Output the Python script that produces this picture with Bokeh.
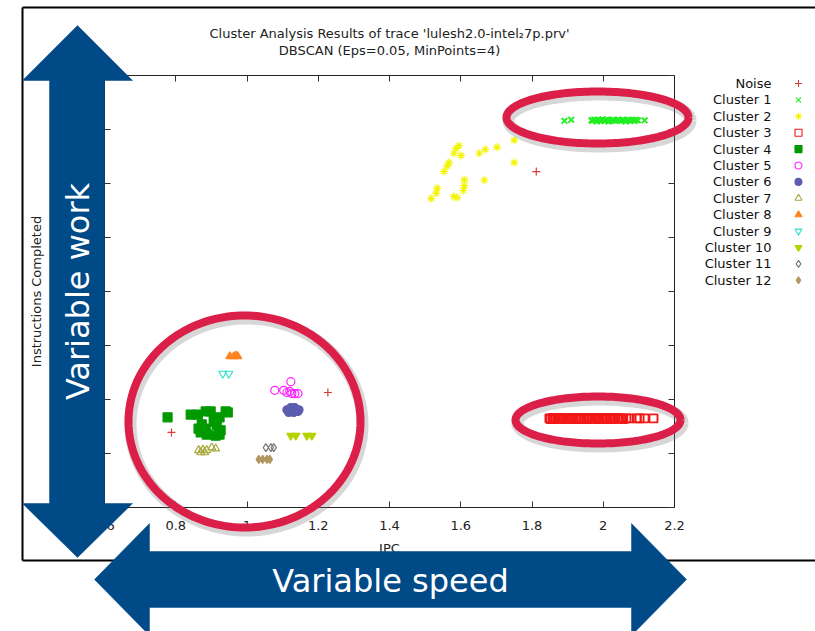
import numpy as np
from bokeh.plotting import figure
from bokeh.models import Range1d, FixedTicker, LinearAxis
from bokeh.embed import file_html
from bokeh.resources import INLINE
from bokeh.core.properties import value

FONT = "DejaVu Sans"
W, H = 815, 631

# ---------------- data ----------------
cluster_names = ["Noise", "Cluster 1", "Cluster 2", "Cluster 3", "Cluster 4", "Cluster 5",
                 "Cluster 6", "Cluster 7", "Cluster 8", "Cluster 9", "Cluster 10",
                 "Cluster 11", "Cluster 12"]
marker_types = ["cross", "x", "asterisk", "square", "square", "circle", "circle",
                "triangle", "triangle", "inverted_triangle", "inverted_triangle",
                "diamond", "diamond"]
marker_colors = ["#dc3c3c", "#22ee22", "#f4f400", "#f41818", "#009a00", "#ff22ff",
                 "#5c5cb0", "#a8a83c", "#ff8420", "#30e2c8", "#b6d200", "#777777", "#b29660"]
marker_filled = [False, False, False, False, True, False, True, False, True, False,
                 True, False, True]

noise_ipc = [0.788, 1.227, 1.812]
noise_instr = [13.9, 21.3, 62.2]

c1_ipc = [1.891, 1.910, 1.967, 1.970, 1.975, 1.979, 1.982, 1.986, 1.991, 1.994, 1.998,
          2.003, 2.006, 2.010, 2.015, 2.018, 2.022, 2.027, 2.030, 2.034, 2.039, 2.042,
          2.046, 2.051, 2.054, 2.058, 2.063, 2.066, 2.071, 2.075, 2.079, 2.084, 2.088,
          2.092, 2.097, 2.116]
c1_instr = [71.6, 71.8, 71.7, 71.6, 71.8, 71.7, 71.5, 71.8, 71.6, 71.7, 71.9,
            71.6, 71.7, 71.8, 71.5, 71.7, 71.6, 71.8, 71.7, 71.6, 71.7, 71.8,
            71.7, 71.6, 71.8, 71.7, 71.5, 71.7, 71.8, 71.6, 71.7, 71.7, 71.6,
            71.8, 71.7, 71.7]

c2_ipc = [1.595, 1.587, 1.581, 1.601, 1.567, 1.562, 1.553, 1.652, 1.669, 1.702, 1.750,
          1.750, 1.610, 1.610, 1.607, 1.666, 1.534, 1.531, 1.517, 1.581, 1.590]
c2_instr = [67.0, 66.5, 65.6, 65.2, 63.9, 63.2, 62.2, 65.6, 66.3, 66.7, 68.0,
            63.9, 60.7, 59.6, 58.7, 60.6, 59.1, 58.2, 57.2, 57.6, 57.4]

c3_ipc = [1.849, 1.852, 1.858, 1.861, 1.865, 1.871, 1.874, 1.878, 1.884, 1.887, 1.893,
          1.895, 1.901, 1.904, 1.910, 1.912, 1.917, 1.923, 1.925, 1.930, 1.936, 1.938,
          1.945, 1.947, 1.953, 1.956, 1.960, 1.966, 1.969, 1.975, 1.977, 1.982, 1.988,
          1.990, 1.997, 1.999, 2.005, 2.008, 2.012, 2.018, 2.021, 2.027, 2.029, 2.034,
          2.040, 2.042, 2.047, 2.053, 2.056, 2.065, 2.074, 2.094, 2.102, 2.116, 2.141]
c3_instr = [16.5, 16.4, 16.6, 16.5, 16.5, 16.4, 16.6, 16.5, 16.5, 16.6, 16.4,
            16.5, 16.5, 16.6, 16.5, 16.4, 16.5, 16.6, 16.5, 16.5, 16.4, 16.5,
            16.6, 16.5, 16.5, 16.4, 16.5, 16.6, 16.5, 16.5, 16.5, 16.4, 16.5,
            16.6, 16.5, 16.5, 16.4, 16.5, 16.6, 16.5, 16.5, 16.5, 16.4, 16.5,
            16.6, 16.5, 16.5, 16.5, 16.4, 16.5, 16.5, 16.5, 16.5, 16.5, 16.5]

c4_ipc = [0.777, 0.842, 0.862, 0.884, 0.898, 0.907, 0.923, 0.940, 0.946, 0.915, 0.926,
          0.873, 0.884, 0.870, 0.887, 0.912, 0.923, 0.907, 0.864]
c4_instr = [16.7, 17.2, 17.2, 17.8, 17.8, 16.5, 16.7, 17.8, 17.6, 15.2, 14.3,
            15.4, 14.6, 13.9, 13.5, 13.3, 13.5, 15.9, 14.6]

c5_ipc = [1.123, 1.078, 1.103, 1.112, 1.126, 1.134, 1.143, 1.120]
c5_instr = [23.3, 21.7, 21.7, 21.3, 21.1, 21.1, 21.1, 21.5]

c6_ipc = [1.112, 1.123, 1.134, 1.146, 1.117, 1.131, 1.143]
c6_instr = [18.1, 18.5, 18.5, 18.1, 17.6, 17.6, 17.8]

c7_ipc = [0.864, 0.876, 0.887, 0.901, 0.912, 0.870, 0.881]
c7_instr = [10.6, 10.7, 10.6, 11.1, 10.9, 10.2, 10.2]

c8_ipc = [0.952, 0.963, 0.974, 0.969]
c8_instr = [28.0, 28.0, 28.0, 28.1]

c9_ipc = [0.932, 0.949]
c9_instr = [24.8, 24.8]

c10_ipc = [1.123, 1.137, 1.168, 1.182]
c10_instr = [13.3, 13.3, 13.3, 13.3]

c11_ipc = [1.053, 1.067, 1.075]
c11_instr = [11.1, 11.1, 11.1]

c12_ipc = [1.033, 1.044, 1.056, 1.064]
c12_instr = [8.9, 8.9, 8.9, 8.9]

series_ipc = [noise_ipc, c1_ipc, c2_ipc, c3_ipc, c4_ipc, c5_ipc, c6_ipc, c7_ipc, c8_ipc,
              c9_ipc, c10_ipc, c11_ipc, c12_ipc]
series_instr = [noise_instr, c1_instr, c2_instr, c3_instr, c4_instr, c5_instr, c6_instr,
                c7_instr, c8_instr, c9_instr, c10_instr, c11_instr, c12_instr]

x_ticks = [0.6, 0.8, 1.0, 1.2, 1.4, 1.6, 1.8, 2.0, 2.2]
x_tick_labels = ["0.6", "0.8", "1", "1.2", "1.4", "1.6", "1.8", "2", "2.2"]
y_ticks = [0, 10, 20, 30, 40, 50, 60, 70, 80]
y_tick_labels = ["0", "1e+07", "2e+07", "3e+07", "4e+07", "5e+07", "6e+07", "7e+07", "8e+07"]

title_lines = ["Cluster Analysis Results of trace 'lulesh2.0-intel\u20827p.prv'",
               "DBSCAN (Eps=0.05, MinPoints=4)"]
arrow_texts = ["Variable work", "Variable speed"]

BLUE = "#004a88"
RED = "#dc1f48"

# chart area inside the canvas (pixels): x 104..674, y 75..507
CH_L, CH_R, CH_T, CH_B = 104, 674, 75, 507
XMIN, XMAX, YMIN, YMAX = 0.6, 2.2, 0, 80
sx = (CH_R - CH_L) / (XMAX - XMIN)
sy = (CH_B - CH_T) / (YMAX - YMIN)
x_range = Range1d(XMIN - CH_L / sx, XMAX + (W - CH_R) / sx)
y_range = Range1d(YMIN - (H - CH_B) / sy, YMAX + CH_T / sy)

p = figure(width=W, height=H, x_range=x_range, y_range=y_range, title=None,
           output_backend="svg", toolbar_location=None,
           min_border=0, min_border_left=0, min_border_right=0,
           min_border_top=0, min_border_bottom=0,
           background_fill_color="white", border_fill_color="white",
           outline_line_color=None)
p.grid.visible = False
p.extra_x_ranges = {"px": Range1d(0, W)}
p.extra_y_ranges = {"px": Range1d(H, 0)}


def style_axis(ax):
    ax.major_tick_in = 6
    ax.major_tick_out = 0
    ax.minor_tick_in = 0
    ax.minor_tick_out = 0
    ax.axis_line_color = "#222222"
    ax.axis_line_width = 1
    ax.major_tick_line_color = "#333333"
    ax.major_label_text_font = FONT
    ax.major_label_text_font_size = "13px"
    ax.major_label_text_color = "#222222"
    ax.axis_label_text_font = FONT
    ax.axis_label_text_font_size = "13px"
    ax.axis_label_text_font_style = "normal"
    ax.axis_label_text_color = "#222222"


xb = p.xaxis[0]
style_axis(xb)
xb.fixed_location = YMIN
xb.bounds = (XMIN, XMAX)
xb.ticker = FixedTicker(ticks=x_ticks)
xb.major_label_overrides = dict(zip(x_ticks, x_tick_labels))
xb.axis_label = "IPC"
xb.major_label_standoff = 13
xb.axis_label_standoff = 8

yl = p.yaxis[0]
style_axis(yl)
yl.fixed_location = XMIN
yl.bounds = (YMIN, YMAX)
yl.ticker = FixedTicker(ticks=y_ticks)
yl.major_label_overrides = dict(zip(y_ticks, y_tick_labels))
yl.axis_label = "Instructions Completed"
yl.major_label_standoff = 5
yl.axis_label_standoff = 9

xt = LinearAxis(fixed_location=YMAX, bounds=(XMIN, XMAX), ticker=FixedTicker(ticks=x_ticks),
                major_label_overrides={t: "" for t in x_ticks})
style_axis(xt)
p.add_layout(xt, "above")
yr = LinearAxis(fixed_location=XMAX, bounds=(YMIN, YMAX), ticker=FixedTicker(ticks=y_ticks),
                major_label_overrides={t: "" for t in y_ticks})
style_axis(yr)
p.add_layout(yr, "right")

# data (dense clusters 1 and 3 drawn with a heavier stroke, as in the original)
for name, xs, ys, m, c, f in zip(cluster_names, series_ipc, series_instr, marker_types,
                                 marker_colors, marker_filled):
    lw = 1.9 if name in ("Cluster 1", "Cluster 3") else 1.2
    sz = 9 if name == "Cluster 4" else 8
    p.scatter(xs, ys, marker=m, size=sz, line_color=c, line_width=lw,
              fill_color=c if f else None)

PX = dict(x_range_name="px", y_range_name="px")

# titles
p.text(x=[389, 389], y=[33, 50], text=title_lines, text_align="center",
       text_baseline="middle", text_font=value(FONT), text_font_size="13px",
       text_color="#222222", **PX)

# legend (gnuplot style: label right-aligned, symbol on the right)
n = len(cluster_names)
row_y = [83 + 16.4 * i for i in range(n)]
p.text(x=[771] * n, y=row_y, text=cluster_names, text_align="right",
       text_baseline="middle", text_font=value(FONT), text_font_size="13px",
       text_color="#111111", **PX)
for yy, m, c, f in zip(row_y, marker_types, marker_colors, marker_filled):
    p.scatter([798], [yy], marker=m, size=7, line_color=c, line_width=1.1,
              fill_color=c if f else None, **PX)

# outer border of the embedded picture
p.multi_line(xs=[[22, 22], [22, W + 5], [22, W + 5]], ys=[[7, 560], [7, 7], [560, 560]],
             line_color="black", line_width=2, **PX)


def ellipse_pts(cx, cyd, a, b, npts=180):
    t = np.linspace(0, 2 * np.pi, npts + 1)
    return list(cx + a * np.cos(t)), list(cyd + b * np.sin(t))


ellipses = [(597, 117, 91, 26), (597.5, 419.5, 82.5, 23.5), (244, 421, 116, 106)]
for (ex, ey, ea, eb) in ellipses:
    xs, ys = ellipse_pts(ex + 2, ey + 3, ea, eb)
    p.line(xs, ys, line_color="#7a7a7a", line_alpha=0.3, line_width=12, level="overlay", **PX)
    xs, ys = ellipse_pts(ex, ey, ea, eb)
    p.line(xs, ys, line_color=RED, line_width=8, level="overlay", **PX)

# blue arrows
v_arrow = [(77, 25), (132, 80), (104, 80), (104, 503), (132, 503), (77, 557), (22, 503),
           (49, 503), (49, 80), (22, 80)]
h_arrow = [(94, 579), (149, 523), (149, 551), (631, 551), (631, 523), (686, 579),
           (631, 635), (631, 607), (149, 607), (149, 635)]
for poly in (v_arrow, h_arrow):
    p.patch([a for a, b in poly], [b for a, b in poly], fill_color=BLUE, line_color=BLUE,
            line_width=0.5, level="overlay", **PX)

p.text(x=[77], y=[291], text=[arrow_texts[0]], angle=np.pi / 2, text_align="center",
       text_baseline="middle", text_font=value(FONT), text_font_size="32px",
       text_color="white", level="overlay", **PX)
p.text(x=[390], y=[580], text=[arrow_texts[1]], text_align="center",
       text_baseline="middle", text_font=value(FONT), text_font_size="32px",
       text_color="white", level="overlay", **PX)

with open("out.html", "w") as fh:
    fh.write(file_html(p, INLINE))
